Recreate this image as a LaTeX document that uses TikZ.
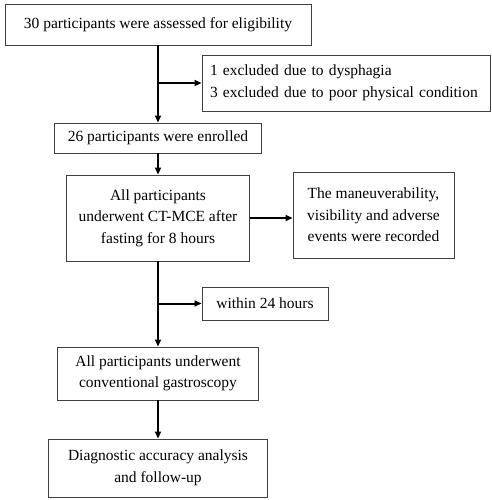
\documentclass[tikz,border=0pt]{standalone}
\usepackage{fontspec}
\setmainfont{Liberation Serif}
\usetikzlibrary{arrows.meta}
\begin{document}
\begin{tikzpicture}[x=1pt,y=-1pt,
  box/.style={draw=black!75,line width=0.9pt,inner sep=0pt,align=center,
    font=\fontsize{15.5}{21.5}\selectfont},
  arr/.style={line width=2pt,-{Triangle[length=7pt,width=6pt]}}]
\useasboundingbox (0,0) rectangle (491,500);
\node[box,minimum width=306pt,minimum height=41pt] (b1) at (158,24.5) {30 participants were assessed for eligibility};
\node[box,minimum width=288pt,minimum height=56pt,align=left,text width=272pt] (ex) at (346,83) {1 excluded due to dysphagia\\3 excluded due to poor physical condition};
\node[box,minimum width=207pt,minimum height=30pt] (b2) at (158,138) {26 participants were enrolled};
\node[box,minimum width=183pt,minimum height=86pt] (b3) at (158,218) {All participants\\underwent CT-MCE after\\fasting for 8 hours};
\node[box,minimum width=161pt,minimum height=86pt] (b4) at (373.5,215) {The maneuverability,\\visibility and adverse\\events were recorded};
\node[box,minimum width=126pt,minimum height=33pt] (w) at (265,303.5) {within 24 hours};
\node[box,minimum width=201pt,minimum height=53pt] (b5) at (158,373.5) {All participants underwent\\conventional gastroscopy};
\node[box,minimum width=219pt,minimum height=58pt] (b6) at (158,468) {Diagnostic accuracy analysis\\and follow-up};
\coordinate (j1) at (b1.south |- ex.west);
\coordinate (j2) at (b3.south |- w.west);
\draw[arr] (b1.south) -- (b2.north);
\draw[arr] (j1) -- (ex.west);
\draw[arr] (b2.south) -- (b3.north);
\draw[arr] (b3.east) -- (b3.east -| b4.west);
\draw[arr] (b3.south) -- (b5.north);
\draw[arr] (j2) -- (w.west);
\draw[arr] (b5.south) -- (b6.north);
\end{tikzpicture}
\end{document}
